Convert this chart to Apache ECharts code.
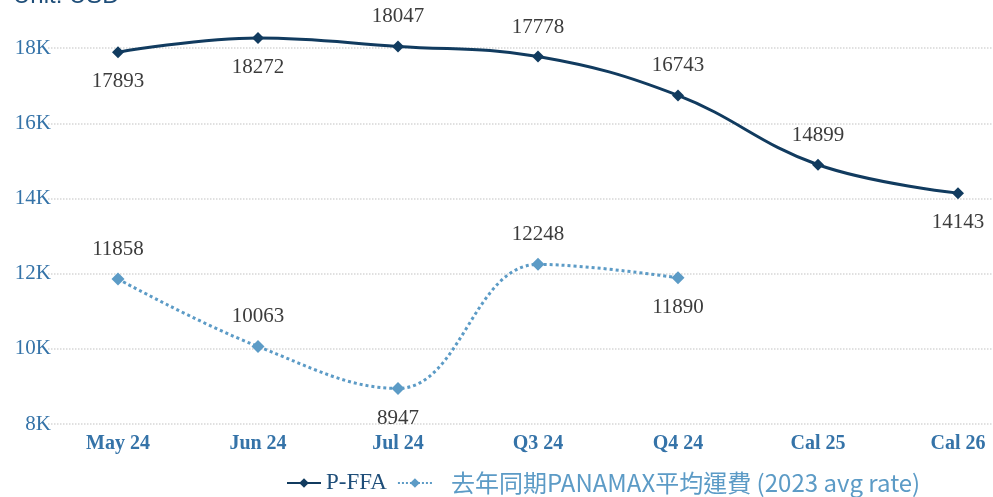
<!DOCTYPE html>
<html>
<head>
<meta charset="utf-8">
<script src="https://cdn.jsdelivr.net/npm/echarts@6/dist/echarts.min.js"></script>
<style>
  html, body { margin: 0; padding: 0; background: #fff; }
  #chart { width: 993px; height: 497px; }
</style>
</head>
<body>
<div id="chart"></div>
<script>
// 数据
const categories = ['May 24', 'Jun 24', 'Jul 24', 'Q3 24', 'Q4 24', 'Cal 25', 'Cal 26'];
const ffaValues = [17893, 18272, 18047, 17778, 16743, 14899, 14143];
const lastYearValues = [11858, 10063, 8947, 12248, 11890, null, null];
const yTicks = [8000, 10000, 12000, 14000, 16000, 18000, 20000];

// 标签位置
const ffaLabelPos = ['bottom', 'bottom', 'top', 'top', 'top', 'top', 'bottom'];
const lastYearLabelPos = ['top', 'top', 'bottom', 'top', 'bottom', 'top', 'top'];

const darkBlue = '#113b5f';
const lightBlue = '#5c9bc6';
const serif = '"Liberation Serif", "DejaVu Serif", serif';

const chart = echarts.init(document.getElementById('chart'));

const labelStyle = {
  show: true,
  distance: 13,
  fontFamily: serif,
  fontSize: 21,
  color: '#3c3c3c'
};

chart.setOption({
  animation: false,
  title: {
    text: 'Unit: USD',
    left: 8,
    top: -21,
    textStyle: {
      fontFamily: '"Liberation Sans", Arial, sans-serif',
      fontSize: 24,
      fontWeight: 'normal',
      color: '#1f4e79'
    }
  },
  legend: {
    left: 281,
    top: 466,
    itemWidth: 34,
    itemHeight: 12,
    itemGap: 10,
    data: [
      {
        name: 'P-FFA',
        textStyle: { fontFamily: serif, fontSize: 23, color: '#1f4e79' }
      },
      {
        name: '去年同期PANAMAX平均運費 (2023 avg rate)',
        textStyle: { fontFamily: '"Noto Sans CJK TC", "Noto Sans", sans-serif', fontSize: 24, color: lightBlue, padding: [0, 0, 0, 14] }
      }
    ]
  },
  grid: {
    left: 48,
    right: -35,
    top: -27,
    bottom: 73,
    outerBoundsMode: 'none'
  },
  xAxis: {
    type: 'category',
    data: categories,
    boundaryGap: true,
    axisLine: { show: false },
    axisTick: { show: false },
    axisLabel: {
      margin: 10,
      fontFamily: serif,
      fontSize: 20,
      fontWeight: 'bold',
      color: '#3573a8'
    }
  },
  yAxis: {
    type: 'value',
    min: yTicks[0],
    max: yTicks[yTicks.length - 1],
    interval: 2000,
    axisLine: { show: false },
    axisTick: { show: false },
    axisLabel: {
      margin: -3,
      fontFamily: serif,
      fontSize: 21,
      color: '#3573a8',
      formatter: v => v / 1000 + 'K'
    },
    splitLine: {
      lineStyle: { type: 'dotted', color: '#d6d6d6', width: 1.5 }
    }
  },
  series: [
    {
      name: 'P-FFA',
      type: 'line',
      smooth: 0.4,
      symbol: 'diamond',
      symbolSize: 12,
      z: 3,
      itemStyle: { color: darkBlue },
      lineStyle: { color: darkBlue, width: 3 },
      data: ffaValues.map((v, i) => ({ value: v, label: { position: ffaLabelPos[i] } })),
      label: labelStyle
    },
    {
      name: '去年同期PANAMAX平均運費 (2023 avg rate)',
      type: 'line',
      smooth: 0.4,
      symbol: 'diamond',
      symbolSize: 13,
      itemStyle: { color: lightBlue },
      lineStyle: { color: lightBlue, width: 3, type: 'dotted' },
      data: lastYearValues.map((v, i) => ({ value: v, label: { position: lastYearLabelPos[i] } })),
      label: labelStyle
    }
  ]
});

window.addEventListener('resize', () => chart.resize());
</script>
</body>
</html>
